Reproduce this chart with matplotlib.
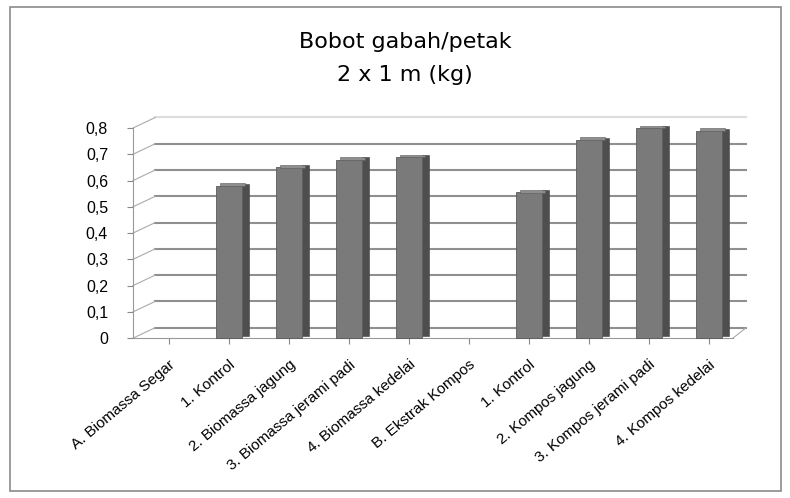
import numpy as np
import matplotlib.pyplot as plt
from matplotlib.patches import Rectangle

# data (group headers have no bar)
categories = ['A. Biomassa Segar', '1. Kontrol', '2. Biomassa jagung',
              '3. Biomassa jerami padi', '4. Biomassa kedelai', 'B. Ekstrak Kompos',
              '1. Kontrol', '2. Kompos jagung', '3. Kompos jerami padi', '4. Kompos kedelai']
values = [np.nan, 0.58, 0.65, 0.68, 0.69, np.nan, 0.555, 0.755, 0.80, 0.79]
yticks = [0, 0.1, 0.2, 0.3, 0.4, 0.5, 0.6, 0.7, 0.8]

plt.rcParams['font.family'] = ['Liberation Sans', 'DejaVu Sans']

fig = plt.figure(figsize=(7.9, 4.98), dpi=100)
ax = fig.add_axes([0.1684, 0.321, 0.767, 0.422])

x = np.arange(len(categories))
vals = np.array(values, dtype=float)
w = 0.42
d = 0.12
depth_y = 0.04   # back wall offset (fake 3D)
depth_x = 0.37

# back wall gridlines and left wall slants
xmin, xmax = -0.6, 9.5
for t in yticks:
    col = '#8f8f8f' if t < 0.8 else '#dddddd'
    ax.plot([xmin + depth_x, xmax + 0.12], [t + depth_y, t + depth_y], color=col,
            linewidth=1.5, zorder=1, clip_on=False)
    ax.plot([xmin, xmin + depth_x], [t, t + depth_y], color='#aaaaaa',
            linewidth=0.8, zorder=1, clip_on=False)
ax.plot([xmax - 0.1, xmax + 0.12], [0, depth_y], color='#aaaaaa', linewidth=0.8, clip_on=False)

# front faces, side faces (darker) and top faces
ax.bar(x, vals, width=w, color='#7a7a7a', edgecolor='#5a5a5a', linewidth=0.6,
       zorder=3, clip_on=False)
ax.bar(x + w / 2 + d / 2, vals, width=d, bottom=0.008, color='#4e4e4e',
       edgecolor='#404040', linewidth=0.4, zorder=2, clip_on=False)
ax.bar(x + d / 2, np.full_like(vals, 0.01), width=w, bottom=vals - 0.001,
       color='#8e8e8e', edgecolor='#5a5a5a', linewidth=0.4, zorder=4, clip_on=False)

ax.set_xlim(xmin, xmax)
ax.set_ylim(0, 0.8)
ax.set_yticks(yticks)
ax.set_yticklabels([f'{t:.1f}'.replace('.', ',') if t else '0' for t in yticks], fontsize=11.5)

ax.set_xticks(x)
ax.set_xticklabels(categories, rotation=40, ha='right', rotation_mode='anchor', fontsize=11)
ax.tick_params(axis='x', length=4, color='#888888', pad=10)
ax.tick_params(axis='y', length=4, color='#888888', pad=14)

for s in ['top', 'right']:
    ax.spines[s].set_visible(False)
ax.spines['left'].set_color('#999999')
ax.spines['bottom'].set_color('#999999')
ax.spines['bottom'].set_bounds(xmin, xmax - 0.1)

fig.text(0.513, 0.916, 'Bobot gabah/petak', ha='center', va='center', fontsize=16,
         family='DejaVu Sans')
fig.text(0.513, 0.849, '2 x 1 m (kg)', ha='center', va='center', fontsize=16,
         family='DejaVu Sans')

# outer chart border
fig.patches.append(Rectangle((0.013, 0.015), 0.976, 0.97, transform=fig.transFigure,
                             fill=False, edgecolor='#8a8a8a', linewidth=1.2))

fig.savefig('out.png', dpi=100)
